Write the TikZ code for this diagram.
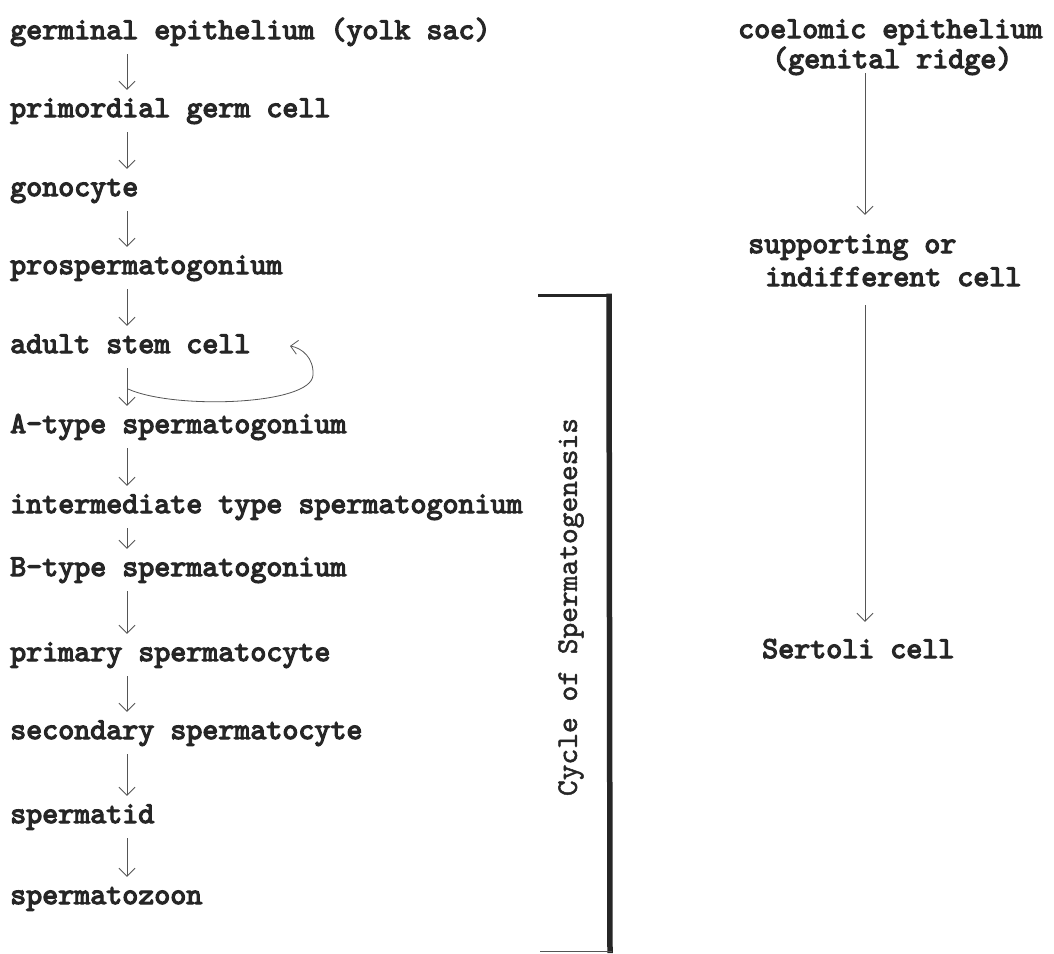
\documentclass[tikz,border=0pt]{standalone}
\usepackage{fontspec}
\usetikzlibrary{arrows.meta}
\definecolor{ink}{HTML}{262626}
\definecolor{pen}{HTML}{555555}
\newfontfamily\twfont{lmmono10-regular}[Extension=.otf, FakeBold=4]
\newfontfamily\twlfont{lmmono10-regular}[Extension=.otf, FakeBold=1.5]
\newcommand{\tw}{\twfont\fontsize{30.5}{30.5}\selectfont}
\newcommand{\twl}{\twlfont\fontsize{30}{30}\selectfont}
\begin{document}
\begin{tikzpicture}[x=1pt,y=-1pt,
 lbl/.style={anchor=west, font=\tw, text=ink, inner xsep=0pt, inner ysep=12pt, text height=15pt, text depth=3pt},
 rlbl/.style={anchor=west, font=\tw, text=ink, inner sep=0pt, text height=15pt, text depth=3pt},
 arr/.style={draw=pen, line width=0.9pt, -{Straight Barb[length=8pt,width=16pt]}},
]
\useasboundingbox[fill=white] (0,0) rectangle (1054,953);
\coordinate (ax) at (127,0);
\coordinate (rx) at (865,0);
% left column
\node[lbl] (n1) at (10,33) {germinal epithelium (yolk sac)};
\node[lbl] (n2) at (10,111) {primordial germ cell};
\node[lbl] (n3) at (10,190) {gonocyte};
\node[lbl] (n4) at (10,268) {prospermatogonium};
\node[lbl] (n5) at (10,347) {adult stem cell};
\node[lbl] (n6) at (10,427) {A-type spermatogonium};
\node[lbl] (n7) at (10,507) {intermediate type spermatogonium};
\node[lbl] (n8) at (10,570) {B-type spermatogonium};
\node[lbl] (n9) at (10,655) {primary spermatocyte};
\node[lbl] (n10) at (10,733) {secondary spermatocyte};
\node[lbl] (n11) at (10,817) {spermatid};
\node[lbl] (n12) at (10,898) {spermatozoon};
\foreach \a/\b in {n1/n2,n2/n3,n3/n4,n4/n5,n5/n6,n6/n7,n7/n8,n8/n9,n9/n10,n10/n11,n11/n12}
  \draw[arr] (\a.south -| ax) -- (\b.north -| ax);
% self-renewal loop
\coordinate (loopA) at (128,389);
\coordinate (loopB) at (290,346);
\draw[draw=pen, line width=0.8pt, -{Straight Barb[length=7pt,width=14pt]}]
  (loopA) .. controls (175,410) and (312,405) .. (313,375)
          .. controls (314,358) and (302,348) .. (loopB);
% right column
\node[rlbl] (c1) at (738,32) {coelomic epithelium};
\node[rlbl] (c2) at (772,62) {(genital ridge)};
\node[rlbl] (s1) at (748,247) {supporting or};
\node[rlbl] (s2) at (765,280) {indifferent cell};
\node[rlbl] (se) at (762,652) {Sertoli cell};
\draw[arr, shorten <=2pt, shorten >=23pt] (c2.south -| rx) -- (s1.north -| rx);
\draw[arr, shorten <=16pt, shorten >=21pt] (s2.south -| rx) -- (se.north -| rx);
% bracket
\draw[ink, line width=3pt] (538,295) -- (611,295);
\draw[ink, line width=5.5pt] (609,293.5) -- (610,953);
\draw[pen, line width=1pt] (540,951) -- (612,951);
\node[font=\twl, text=ink, rotate=90, inner sep=0pt] (cyc) at (571,607) {Cycle of Spermatogenesis};
\end{tikzpicture}
\end{document}
